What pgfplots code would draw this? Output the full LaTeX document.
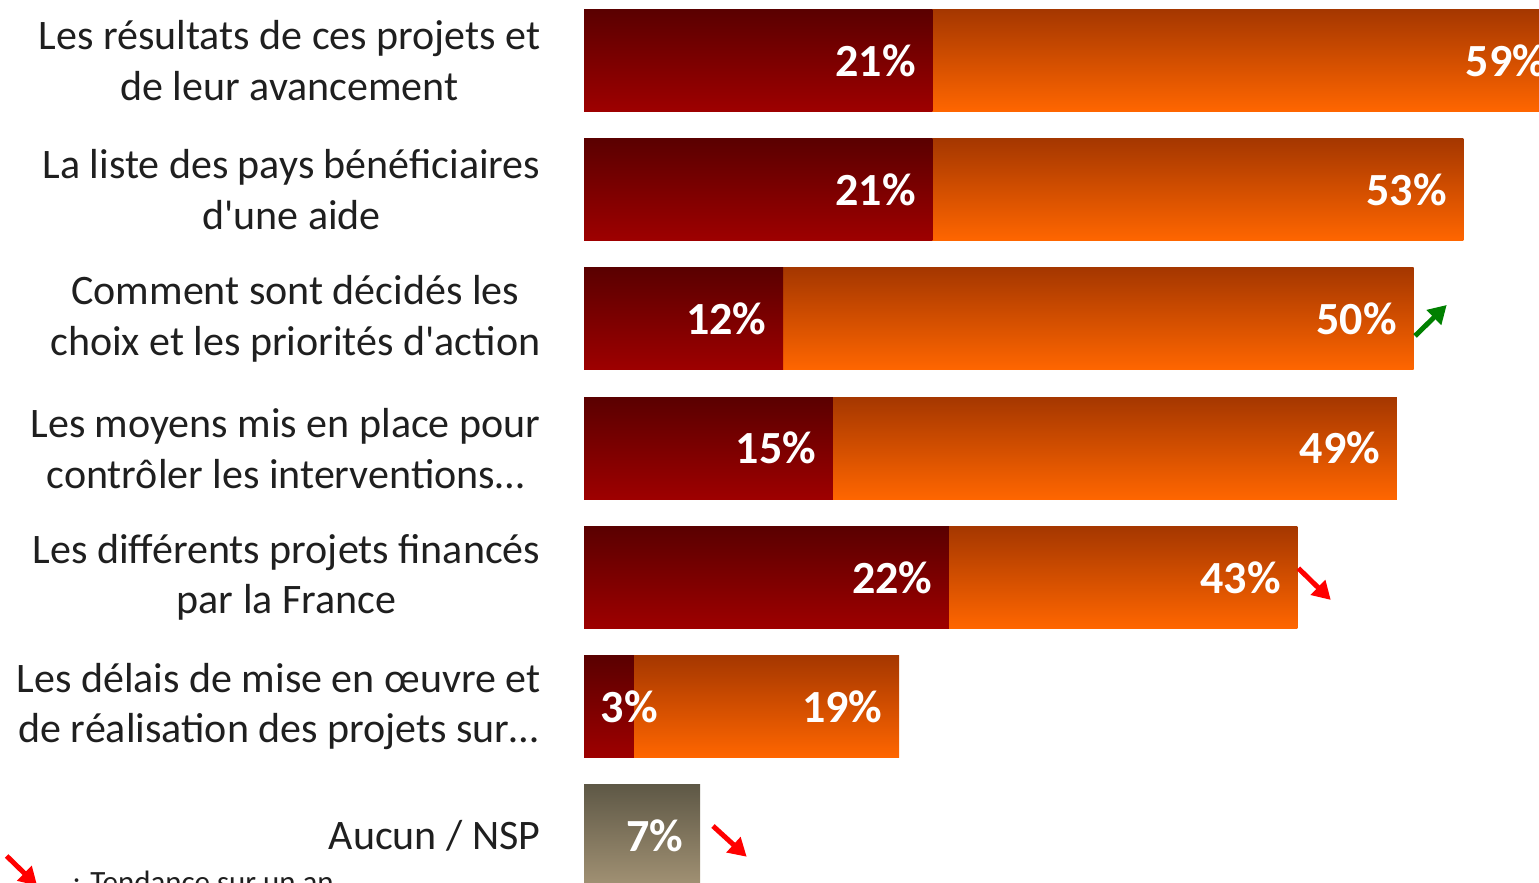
\documentclass[border=0pt]{standalone}
\usepackage{pgfplots}
\pgfplotsset{compat=1.18}
\usepackage{pgfplotstable}
\usepackage{fontspec}
\setmainfont{Carlito}[Ligatures=TeXOff]
\usetikzlibrary{arrows.meta}
\definecolor{dkTop}{RGB}{90,0,0}
\definecolor{dkBot}{RGB}{158,0,0}
\definecolor{orTop}{RGB}{165,55,0}
\definecolor{orBot}{RGB}{255,102,0}
\definecolor{grTop}{RGB}{94,88,70}
\definecolor{grBot}{RGB}{162,146,116}
\definecolor{trGreen}{RGB}{0,128,0}
\definecolor{trRed}{RGB}{255,0,0}

\pgfplotstableread{
y total
0 59
1 53
2 50
3 49
4 43
5 19
}\totaltab
\pgfplotstableread{
y dark
0 21
1 21
2 12
3 15
4 22
}\darktab
\pgfplotstableread{
y dark
5 3
}\darksmalltab
\pgfplotstableread{
y none
6 7
}\nonetab
\pgfplotstableread{
x y u v
50.09 2.132 1.911 -0.240
}\uptab
\pgfplotstableread{
x y u v
43.06 3.930 1.953 0.245
7.776 5.925 2.031 0.238
-34.80 6.157 1.84 0.23
}\downtab

\begin{document}
\begin{tikzpicture}
\useasboundingbox (0,0) rectangle (15.39,-8.82);
\clip (0,0) rectangle (15.39,-8.82);
\begin{axis}[
  at={(5.84cm,0.041cm)}, anchor=north west,
  scale only axis, width=9.954cm, height=9.044cm,
  xmin=0, xmax=60, ymin=-0.5, ymax=6.5, y dir=reverse,
  clip=false,
  axis line style={draw=none},
  major tick length=0pt,
  xtick=\empty,
  ytick={0,1,2,3,4,5,6},
  yticklabels={{Les résultats de ces projets et\\de leur avancement},
    {La liste des pays bénéficiaires\\d'une aide},
    {Comment sont décidés les\\choix et les priorités d'action},
    {Les moyens mis en place pour\\contrôler les interventions…},
    {Les différents projets financés\\par la France},
    {Les délais de mise en œuvre et\\de réalisation des projets sur…},
    {Aucun / NSP}},
  yticklabel style={align=center, anchor=east, inner sep=0pt, xshift=-0.43cm,
    font=\fontsize{11.95pt}{14.5pt}\selectfont, text=black!88},
  bar width=1.02cm,
  nodes near coords style={anchor=east, xshift=-0.16cm, inner sep=0pt, text=white,
    font=\fontsize{13.1pt}{13.1pt}\selectfont\bfseries},
]
\pgfplotsinvokeforeach{0,1,2,3,4,5}{
\addplot[xbar, bar shift=0pt, draw=none, top color=orTop, bottom color=orBot,
  restrict y to domain=#1:#1,
  point meta=explicit symbolic, nodes near coords={\pgfplotspointmeta\%}]
  table[x=total, y=y, meta=total] {\totaltab};
}
\pgfplotsinvokeforeach{0,1,2,3,4}{
\addplot[xbar, bar shift=0pt, draw=none, top color=dkTop, bottom color=dkBot,
  restrict y to domain=#1:#1,
  point meta=explicit symbolic, nodes near coords={\pgfplotspointmeta\%}]
  table[x=dark, y=y, meta=dark] {\darktab};
}
\addplot[xbar, bar shift=0pt, draw=none, top color=dkTop, bottom color=dkBot,
  point meta=explicit symbolic, nodes near coords={\pgfplotspointmeta\%},
  nodes near coords style={anchor=west, xshift=-0.178cm}]
  table[x=dark, y=y, meta=dark] {\darksmalltab};
\addplot[xbar, bar shift=0pt, draw=none, top color=grTop, bottom color=grBot,
  point meta=explicit symbolic, nodes near coords={\pgfplotspointmeta\%}]
  table[x=none, y=y, meta=none] {\nonetab};
\addplot[trGreen, no markers, line width=0.05cm, -{Triangle[length=0.18cm,width=0.2cm]},
  quiver={u=\thisrow{u}, v=\thisrow{v}}] table[x=x, y=y] {\uptab};
\addplot[trRed, no markers, line width=0.05cm, -{Triangle[length=0.18cm,width=0.2cm]},
  quiver={u=\thisrow{u}, v=\thisrow{v}}] table[x=x, y=y] {\downtab};
\node[anchor=base west, inner sep=0pt, font=\fontsize{8.8pt}{10pt}\selectfont, text=black!88]
  at (axis cs:-30.86,6.443) {: Tendance sur un an};
\end{axis}
\end{tikzpicture}
\end{document}
